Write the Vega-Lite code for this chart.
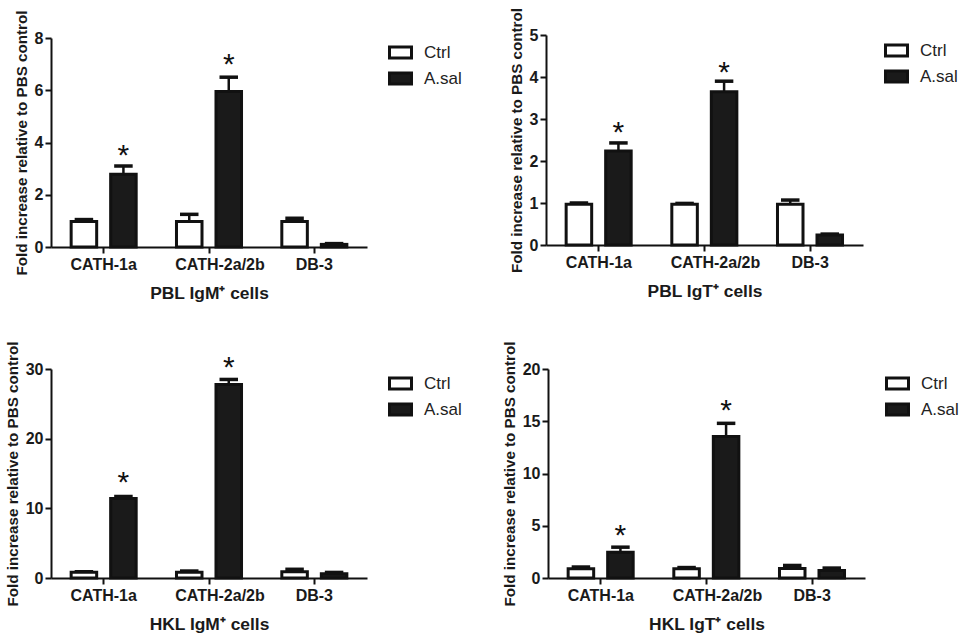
{
  "$schema": "https://vega.github.io/schema/vega-lite/v6.json",
  "background": "white",
  "autosize": {"type": "none"},
  "padding": {"left": 51, "top": 35, "right": 914, "bottom": 604},
  "bounds": "flush",
  "columns": 2,
  "spacing": {"row": 122, "column": 179},
  "resolve": {"scale": {"fill": "independent"}, "legend": {"fill": "independent"}},
  "config": {
    "view": {"stroke": null},
    "font": "Liberation Sans",
    "axis": {"grid": false, "domainColor": "#111", "domainWidth": 2, "tickColor": "#111", "tickWidth": 2, "tickSize": 6, "labelColor": "#1a1a1a", "titleColor": "#1a1a1a", "labelFont": "Liberation Sans", "titleFont": "Liberation Sans", "labelFontWeight": "bold", "titleFontWeight": "bold"},
    "axisY": {"labelFontSize": 16, "titleFontSize": 15.2, "labelPadding": 2, "titlePadding": 5},
    "axisX": {"labelFontSize": 16, "titleFontSize": 17.4, "labelPadding": 3, "titlePadding": 12, "labelAngle": 0},
    "legend": {"labelFontSize": 17, "labelColor": "#222", "labelFont": "Liberation Sans", "symbolType": "M-1,-0.5H1V0.5H-1Z", "symbolSize": 484, "symbolStrokeWidth": 3, "symbolStrokeColor": "#111", "rowPadding": 2, "title": null, "labelOffset": 11}
  },
  "concat": [
    {
      "width": 316, "height": 212,
      "data": {"values": [
        {"gene": "CATH-1a", "group": "Ctrl", "value": 0.98, "upper": 1.05},
        {"gene": "CATH-1a", "group": "A.sal", "value": 2.78, "upper": 3.1, "sig": "*", "sigY": 3.64},
        {"gene": "CATH-2a/2b", "group": "Ctrl", "value": 0.98, "upper": 1.25},
        {"gene": "CATH-2a/2b", "group": "A.sal", "value": 5.95, "upper": 6.5, "sig": "*", "sigY": 7.13},
        {"gene": "DB-3", "group": "Ctrl", "value": 0.98, "upper": 1.1},
        {"gene": "DB-3", "group": "A.sal", "value": 0.1, "upper": 0.13}
      ]},
      "encoding": {
        "x": {"field": "gene", "type": "nominal", "sort": null, "scale": {"paddingInner": 0, "paddingOuter": 0},
          "axis": {"title": "PBL IgM⁺ cells", "labelOffset": {"condition": {"test": "datum.value === 'CATH-2a/2b'", "value": 11}, "value": 0}}},
        "xOffset": {"field": "group", "sort": ["Ctrl", "A.sal"], "scale": {"paddingInner": 0.354, "paddingOuter": 0.51}},
        "y": {"field": "value", "type": "quantitative", "scale": {"domain": [0, 8], "range": [212, 3], "nice": false},
          "axis": {"values": [0, 2, 4, 6, 8], "title": "Fold increase relative to PBS control"}}
      },
      "layer": [
        {"mark": {"type": "rule", "stroke": "#111", "strokeWidth": 2.5}, "encoding": {"y2": {"field": "upper"}}},
        {"mark": {"type": "tick", "stroke": "#111", "strokeWidth": 2.5, "size": 16, "orient": "horizontal", "opacity": 1}, "encoding": {"y": {"field": "upper", "type": "quantitative"}}},
        {"mark": {"type": "bar", "stroke": "#111", "strokeWidth": 3},
          "encoding": {"fill": {"field": "group", "type": "nominal", "sort": ["Ctrl", "A.sal"], "scale": {"domain": ["Ctrl", "A.sal"], "range": ["white", "#1a1a1a"]}, "legend": {"orient": "none", "legendX": 337, "legendY": 5}}}},
        {"transform": [{"filter": "datum.sig"}], "mark": {"type": "text", "fontSize": 30, "dy": 13, "baseline": "alphabetic", "color": "#111"}, "encoding": {"y": {"field": "sigY", "type": "quantitative"}, "text": {"field": "sig"}}}
      ]
    },
    {
      "width": 317, "height": 210,
      "data": {"values": [
        {"gene": "CATH-1a", "group": "Ctrl", "value": 0.97, "upper": 1},
        {"gene": "CATH-1a", "group": "A.sal", "value": 2.24, "upper": 2.43, "sig": "*", "sigY": 2.76},
        {"gene": "CATH-2a/2b", "group": "Ctrl", "value": 0.97, "upper": 0.99},
        {"gene": "CATH-2a/2b", "group": "A.sal", "value": 3.65, "upper": 3.9, "sig": "*", "sigY": 4.19},
        {"gene": "DB-3", "group": "Ctrl", "value": 0.97, "upper": 1.07},
        {"gene": "DB-3", "group": "A.sal", "value": 0.24, "upper": 0.26}
      ]},
      "encoding": {
        "x": {"field": "gene", "type": "nominal", "sort": null, "scale": {"paddingInner": 0, "paddingOuter": 0},
          "axis": {"title": "PBL IgT⁺ cells", "labelOffset": {"condition": {"test": "datum.value === 'CATH-2a/2b'", "value": 11}, "value": 0}}},
        "xOffset": {"field": "group", "sort": ["Ctrl", "A.sal"], "scale": {"paddingInner": 0.354, "paddingOuter": 0.51}},
        "y": {"field": "value", "type": "quantitative", "scale": {"domain": [0, 5], "nice": false},
          "axis": {"values": [0, 1, 2, 3, 4, 5], "title": "Fold increase relative to PBS control"}}
      },
      "layer": [
        {"mark": {"type": "rule", "stroke": "#111", "strokeWidth": 2.5}, "encoding": {"y2": {"field": "upper"}}},
        {"mark": {"type": "tick", "stroke": "#111", "strokeWidth": 2.5, "size": 16, "orient": "horizontal", "opacity": 1}, "encoding": {"y": {"field": "upper", "type": "quantitative"}}},
        {"mark": {"type": "bar", "stroke": "#111", "strokeWidth": 3},
          "encoding": {"fill": {"field": "group", "type": "nominal", "sort": ["Ctrl", "A.sal"], "scale": {"domain": ["Ctrl", "A.sal"], "range": ["white", "#1a1a1a"]}, "legend": {"orient": "none", "legendX": 338, "legendY": 3}}}},
        {"transform": [{"filter": "datum.sig"}], "mark": {"type": "text", "fontSize": 30, "dy": 13, "baseline": "alphabetic", "color": "#111"}, "encoding": {"y": {"field": "sigY", "type": "quantitative"}, "text": {"field": "sig"}}}
      ]
    },
    {
      "width": 316, "height": 209,
      "data": {"values": [
        {"gene": "CATH-1a", "group": "Ctrl", "value": 0.83, "upper": 0.9},
        {"gene": "CATH-1a", "group": "A.sal", "value": 11.4, "upper": 11.7, "sig": "*", "sigY": 14.2},
        {"gene": "CATH-2a/2b", "group": "Ctrl", "value": 0.83, "upper": 1},
        {"gene": "CATH-2a/2b", "group": "A.sal", "value": 27.76, "upper": 28.5, "sig": "*", "sigY": 30.7},
        {"gene": "DB-3", "group": "Ctrl", "value": 0.9, "upper": 1.25},
        {"gene": "DB-3", "group": "A.sal", "value": 0.6, "upper": 0.8}
      ]},
      "encoding": {
        "x": {"field": "gene", "type": "nominal", "sort": null, "scale": {"paddingInner": 0, "paddingOuter": 0},
          "axis": {"title": "HKL IgM⁺ cells", "labelOffset": {"condition": {"test": "datum.value === 'CATH-2a/2b'", "value": 11}, "value": 0}}},
        "xOffset": {"field": "group", "sort": ["Ctrl", "A.sal"], "scale": {"paddingInner": 0.354, "paddingOuter": 0.51}},
        "y": {"field": "value", "type": "quantitative", "scale": {"domain": [0, 30], "nice": false},
          "axis": {"values": [0, 10, 20, 30], "title": "Fold increase relative to PBS control"}}
      },
      "layer": [
        {"mark": {"type": "rule", "stroke": "#111", "strokeWidth": 2.5}, "encoding": {"y2": {"field": "upper"}}},
        {"mark": {"type": "tick", "stroke": "#111", "strokeWidth": 2.5, "size": 16, "orient": "horizontal", "opacity": 1}, "encoding": {"y": {"field": "upper", "type": "quantitative"}}},
        {"mark": {"type": "bar", "stroke": "#111", "strokeWidth": 3},
          "encoding": {"fill": {"field": "group", "type": "nominal", "sort": ["Ctrl", "A.sal"], "scale": {"domain": ["Ctrl", "A.sal"], "range": ["white", "#1a1a1a"]}, "legend": {"orient": "none", "legendX": 337, "legendY": 2}}}},
        {"transform": [{"filter": "datum.sig"}], "mark": {"type": "text", "fontSize": 30, "dy": 13, "baseline": "alphabetic", "color": "#111"}, "encoding": {"y": {"field": "sigY", "type": "quantitative"}, "text": {"field": "sig"}}}
      ]
    },
    {
      "width": 319, "height": 209,
      "data": {"values": [
        {"gene": "CATH-1a", "group": "Ctrl", "value": 0.88, "upper": 1.05},
        {"gene": "CATH-1a", "group": "A.sal", "value": 2.47, "upper": 2.95, "sig": "*", "sigY": 4.4},
        {"gene": "CATH-2a/2b", "group": "Ctrl", "value": 0.88, "upper": 1},
        {"gene": "CATH-2a/2b", "group": "A.sal", "value": 13.54, "upper": 14.8, "sig": "*", "sigY": 16.4},
        {"gene": "DB-3", "group": "Ctrl", "value": 0.9, "upper": 1.2},
        {"gene": "DB-3", "group": "A.sal", "value": 0.72, "upper": 0.95}
      ]},
      "encoding": {
        "x": {"field": "gene", "type": "nominal", "sort": null, "scale": {"paddingInner": 0, "paddingOuter": 0, "range": [2, 319]},
          "axis": {"title": "HKL IgT⁺ cells", "labelOffset": {"condition": {"test": "datum.value === 'CATH-2a/2b'", "value": 11}, "value": 0}}},
        "xOffset": {"field": "group", "sort": ["Ctrl", "A.sal"], "scale": {"paddingInner": 0.354, "paddingOuter": 0.51}},
        "y": {"field": "value", "type": "quantitative", "scale": {"domain": [0, 20], "nice": false},
          "axis": {"values": [0, 5, 10, 15, 20], "title": "Fold increase relative to PBS control", "offset": -2}}
      },
      "layer": [
        {"mark": {"type": "rule", "stroke": "#111", "strokeWidth": 2.5}, "encoding": {"y2": {"field": "upper"}}},
        {"mark": {"type": "tick", "stroke": "#111", "strokeWidth": 2.5, "size": 16, "orient": "horizontal", "opacity": 1}, "encoding": {"y": {"field": "upper", "type": "quantitative"}}},
        {"mark": {"type": "bar", "stroke": "#111", "strokeWidth": 3},
          "encoding": {"fill": {"field": "group", "type": "nominal", "sort": ["Ctrl", "A.sal"], "scale": {"domain": ["Ctrl", "A.sal"], "range": ["white", "#1a1a1a"]}, "legend": {"orient": "none", "legendX": 339, "legendY": 2}}}},
        {"transform": [{"filter": "datum.sig"}], "mark": {"type": "text", "fontSize": 30, "dy": 13, "baseline": "alphabetic", "color": "#111"}, "encoding": {"y": {"field": "sigY", "type": "quantitative"}, "text": {"field": "sig"}}}
      ]
    }
  ]
}
